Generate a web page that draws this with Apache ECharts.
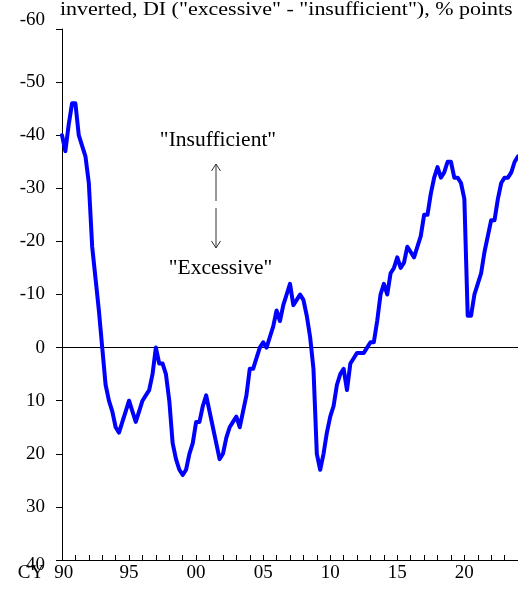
<!DOCTYPE html>
<html>
<head>
<meta charset="utf-8">
<script src="https://cdn.jsdelivr.net/npm/echarts@6/dist/echarts.min.js"></script>
<style>
html,body{margin:0;padding:0;background:#fff;}
#chart{width:518px;height:599px;}
</style>
</head>
<body>
<div id="chart"></div>
<script>
// Quarterly categories 1990Q1 .. 2024Q1
var startYear = 1990, endYear = 2024;
var categories = [];
for (var y = startYear; y <= endYear; y++) {
  for (var q = 1; q <= 4; q++) {
    if (y === endYear && q > 1) break;
    categories.push(y + 'Q' + q);
  }
}
// Employment conditions DI (inverted), % points
var diValues = [
  -40,-37,-42,-46,-46,-40,-38,-36,-31,-19,
  -13,-7,0,7,10,12,15,16,14,12,
  10,12,14,12,10,9,8,5,0,3,
  3,5,10,18,21,23,24,23,20,18,
  14,14,11,9,12,15,18,21,20,17,
  15,14,13,15,12,9,4,4,2,0,
  -1,0,-2,-4,-7,-5,-8,-10,-12,-8,
  -9,-10,-9,-6,-2,4,20,23,20,16,
  13,11,7,5,4,8,3,2,1,1,
  1,0,-1,-1,-5,-10,-12,-10,-14,-15,
  -17,-15,-16,-19,-18,-17,-19,-21,-25,-25,
  -29,-32,-34,-32,-33,-35,-35,-32,-32,-31,
  -28,-6,-6,-10,-12,-14,-18,-21,-24,-24,
  -28,-31,-32,-32,-33,-35,-36
];
var xTickLabels = ['CY 90','95','00','05','10','15','20'];
var yMin = -60, yMax = 40, yStep = 10;
var titleText = 'inverted, DI ("excessive" - "insufficient"), % points';
var upperNote = '"Insufficient"';
var lowerNote = '"Excessive"';

var FONT = '"Liberation Serif", "Times New Roman", serif';
var AX = 19;
var chart = echarts.init(document.getElementById('chart'), null, {renderer: 'canvas'});

var option = {
  animation: false,
  backgroundColor: '#ffffff',
  textStyle: {fontFamily: FONT},
  grid: {left: 62, right: 0, top: 29, bottom: 39, containLabel: false},
  xAxis: {
    type: 'category',
    data: categories,
    boundaryGap: false,
    axisLine: {onZero: false, lineStyle: {color: '#000', width: 1}},
    axisTick: {
      inside: true, length: 5,
      interval: function (i) { return i % 4 === 0; },
      lineStyle: {color: '#000', width: 1}
    },
    axisLabel: {
      interval: function (i) { return i % 20 === 0; },
      margin: 4,
      color: '#000',
      fontFamily: FONT,
      fontSize: AX,
      formatter: function (v, i) {
        var k = Math.round(i / 20);
        var t = xTickLabels[k] || '';
        if (k === 0) {
          var parts = t.split(' ');
          return '{cy|' + parts[0] + '}{n|' + parts[1] + '}{pad| }';
        }
        return t;
      },
      rich: {
        cy: {fontFamily: FONT, fontSize: AX, color: '#000', padding: [0, 10, 0, 0]},
        n: {fontFamily: FONT, fontSize: AX, color: '#000'},
        pad: {fontFamily: FONT, fontSize: AX, width: 33}
      }
    },
    splitLine: {show: false}
  },
  yAxis: {
    type: 'value',
    inverse: true,
    min: yMin, max: yMax, interval: yStep,
    axisLine: {show: true, lineStyle: {color: '#000', width: 1}},
    axisTick: {show: true, inside: false, length: 6, lineStyle: {color: '#000', width: 1}},
    axisLabel: {
      margin: 17,
      color: '#000',
      fontFamily: FONT,
      fontSize: AX,
      formatter: function (v) {
        if (v === yMin) return '{top|' + v + '}';
        if (v === yMax) return '{bot|' + v + '}';
        return String(v);
      },
      rich: {
        top: {fontFamily: FONT, fontSize: AX, color: '#000', padding: [0, 0, 18, 0]},
        bot: {fontFamily: FONT, fontSize: AX, color: '#000', padding: [10, 0, 0, 0]}
      }
    },
    splitLine: {show: false}
  },
  series: [{
    type: 'line',
    data: diValues,
    symbol: 'none',
    lineStyle: {color: '#0000ff', width: 4, cap: 'round', join: 'round'},
    z: 3,
    markLine: {
      silent: true,
      symbol: ['none', 'none'],
      label: {show: false},
      lineStyle: {color: '#000', width: 1, type: 'solid'},
      data: [{yAxis: 0}],
      z: 2
    }
  }],
  graphic: [
    {type: 'text', x: 60, y: 1, scaleX: 1.156, scaleY: 1,
     style: {text: titleText, font: '19px ' + FONT, fill: '#000', textVerticalAlign: 'top'}},
    {type: 'text', x: 218, y: 140,
     style: {text: upperNote, font: '21.5px ' + FONT, fill: '#000', textAlign: 'center', textVerticalAlign: 'middle'}},
    {type: 'text', x: 220.5, y: 268,
     style: {text: lowerNote, font: '21.5px ' + FONT, fill: '#000', textAlign: 'center', textVerticalAlign: 'middle'}},
    {type: 'polyline', shape: {points: [[216, 201], [216, 164]]}, style: {stroke: '#333', lineWidth: 1, fill: null}},
    {type: 'polyline', shape: {points: [[211.5, 171], [216, 164], [220.5, 171]]}, style: {stroke: '#333', lineWidth: 1, fill: null}},
    {type: 'polyline', shape: {points: [[216, 208], [216, 248]]}, style: {stroke: '#333', lineWidth: 1, fill: null}},
    {type: 'polyline', shape: {points: [[211.5, 241], [216, 248], [220.5, 241]]}, style: {stroke: '#333', lineWidth: 1, fill: null}}
  ]
};
chart.setOption(option);
</script>
</body>
</html>
